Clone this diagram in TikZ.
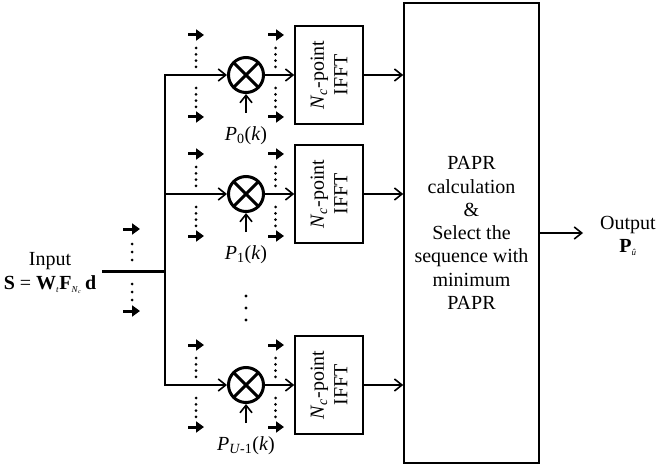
\documentclass[tikz,border=0pt]{standalone}
\usepackage{fontspec}
\setmainfont{Liberation Serif}
\usetikzlibrary{arrows.meta,calc}
\newcommand{\tinysub}[1]{\textsubscript{\fontsize{9}{9}\selectfont #1}}
\begin{document}
\begin{tikzpicture}[x=1pt,y=-1pt,
  font=\fontsize{20}{23.3}\selectfont,
  conn/.style={line width=1.6pt,-{Straight Barb[length=7.5pt,width=12pt,line width=1.6pt]}},
  sarrow/.style={line width=3pt,-{Triangle[length=8pt,width=11pt]}},
  mult/.style={circle,draw,line width=3pt,minimum size=35pt,inner sep=0pt},
  fftbox/.style={draw,line width=1.6pt,rotate=90,minimum width=98pt,minimum height=68pt,align=center,inner sep=0pt},
  selbox/.style={draw,line width=1.6pt,minimum width=135pt,minimum height=460pt,align=center,inner sep=0pt}]
\useasboundingbox (0,0) rectangle (661,465);
\node[selbox] (sel) at (471.5,233) {PAPR\\calculation\\\&\\Select the\\sequence with\\minimum\\PAPR};
\coordinate (in) at (102,271);
\coordinate (split) at (165,271);
\draw[line width=3pt] (in) -- (split);
\foreach \i/\c/\lab in {0/75/{\textit{P}\textsubscript{0}(\textit{k})},1/194/{\textit{P}\textsubscript{1}(\textit{k})},2/385/{\textit{P}\textsubscript{\textit{U}-1}(\textit{k})}} {
  \node[mult] (m\i) at (246,\c) {};
  \draw[line width=3pt] ($(m\i.center)+(-12.5,-12.5)$) -- ($(m\i.center)+(12.5,12.5)$)
    ($(m\i.center)+(12.5,-12.5)$) -- ($(m\i.center)+(-12.5,12.5)$);
  \node[fftbox] (f\i) at (329,\c) {\textit{N}\textsubscript{\textit{c}}-point\\IFFT};
  \draw[conn] (split) |- (m\i);
  \draw[conn] (m\i) -- (f\i);
  \draw[conn] (f\i) -- (f\i -| sel.west);
  \coordinate (b\i) at (246,\c+38);
  \draw[conn] (b\i) -- (m\i);
  \node (p\i) at (246,\c+61) {\lab};
  \draw[sarrow] (188,\c-40) -- ++(16,0);
  \draw[sarrow] (188,\c+42) -- ++(16,0);
  \draw[sarrow] (268,\c-40) -- ++(16,0);
  \draw[sarrow] (268,\c+42) -- ++(16,0);
  \foreach \k in {0,1,2,3} {
    \fill (196,\c-27+\k*6.3) circle (1.5pt);
    \fill (196,\c+13+\k*6.3) circle (1.5pt);
    \fill (275.5,\c-27+\k*6.3) circle (1.5pt);
    \fill (275.5,\c+13+\k*6.3) circle (1.5pt);
  }
}
\foreach \y in {296,308,320} \fill (246,\y) circle (1.7pt);
\draw[sarrow] (123,229) -- ++(17,0);
\draw[sarrow] (123,311) -- ++(17,0);
\foreach \k in {0,1,2} {
  \fill (132,244+\k*8) circle (1.5pt);
  \fill (132,284+\k*8) circle (1.5pt);
}
\node[align=center] (inp) at (50,273) {Input\\\textbf{S} = \textbf{W}\tinysub{\textit{t}}\textbf{F}\tinysub{\textit{N}\textsubscript{\textit{c}}}\,\textbf{d}};
\node[align=center] (out) at (628,236) {Output\\\textbf{P}\tinysub{\textit{û}}};
\coordinate (oe) at (583,233);
\draw[conn] (sel) -- (oe);
\end{tikzpicture}
\end{document}
